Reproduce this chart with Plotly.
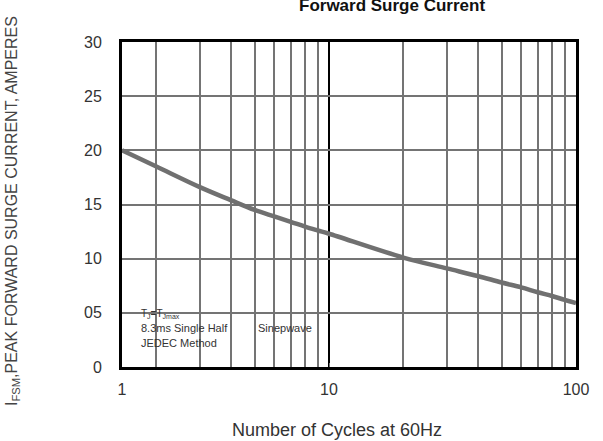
import plotly.graph_objects as go

# Data
cycles = [1.452, 2, 3, 4, 5, 6, 7, 8, 9, 10, 20, 30, 40, 50, 60, 70, 80, 90, 100]
surge_current = [20.0, 18.5, 16.6, 15.4, 14.5, 13.9, 13.4, 12.95, 12.6, 12.3,
                 10.1, 9.1, 8.4, 7.8, 7.35, 6.9, 6.55, 6.2, 5.9]

x_tick_vals = [1.452, 10, 100]
x_tick_text = ["1", "10", "100"]
x_minor_vals = [2, 3, 4, 5, 6, 7, 8, 9, 20, 30, 40, 50, 60, 70, 80, 90]
y_tick_vals = [0, 5, 10, 15, 20, 25, 30]
y_tick_text = ["0", "05", "10", "15", "20", "25", "30"]

FONT = "Liberation Sans, Arial, sans-serif"
GRID = "#747474"

fig = go.Figure()
fig.add_trace(go.Scatter(
    x=cycles, y=surge_current, mode="lines",
    line=dict(color="#707070", width=4.5, shape="spline"),
    showlegend=False, hoverinfo="skip",
))

fig.update_layout(
    width=603, height=441,
    margin=dict(l=122, r=27, t=42, b=74),
    paper_bgcolor="white", plot_bgcolor="white",
    font=dict(family=FONT, color="#333333"),
    hovermode=False,
    xaxis=dict(
        type="log", range=[0.16197, 2],
        tickvals=x_tick_vals, ticktext=x_tick_text,
        showgrid=True, gridcolor="black", gridwidth=1.5,
        ticks="inside", ticklen=4, tickcolor=GRID,
        showline=True, linecolor="black", linewidth=3, mirror=True,
        tickfont=dict(size=16, color="#333333"),
        ticklabelstandoff=6,
        minor=dict(tickvals=x_minor_vals, showgrid=True, gridcolor=GRID,
                   gridwidth=1.8, ticks="inside", ticklen=4, tickcolor=GRID),
        zeroline=False,
    ),
    yaxis=dict(
        range=[0, 30],
        tickvals=y_tick_vals, ticktext=y_tick_text,
        showgrid=True, gridcolor=GRID, gridwidth=1.8,
        ticks="inside", ticklen=5, tickcolor=GRID,
        showline=True, linecolor="black", linewidth=3, mirror=True,
        tickfont=dict(size=16, color="#333333"),
        ticklabelstandoff=14,
        zeroline=False,
    ),
    shapes=[dict(
        type="rect", xref="paper", yref="paper",
        x0=0, x1=0.469, y0=0, y1=0.228,
        fillcolor="white", line=dict(width=0), layer="between",
    )],
    annotations=[
        dict(text="<b>Forward Surge Current</b>", xref="paper", yref="paper",
             x=0.595, y=1.111, xanchor="center", yanchor="middle",
             showarrow=False, font=dict(size=17, color="#111111")),
        dict(text="Number of Cycles at 60Hz", xref="paper", yref="paper",
             x=0.4736, y=-0.194, xanchor="center", yanchor="middle",
             showarrow=False, font=dict(size=18, color="#333333")),
        dict(text="I<sub>FSM</sub>,PEAK FORWARD SURGE CURRENT, AMPERES",
             xref="paper", yref="paper", x=-0.2423, y=0.48,
             xanchor="center", yanchor="middle", textangle=-90,
             showarrow=False, font=dict(size=16, color="#444444")),
        dict(text="T<sub>J</sub>=T<sub>Jmax</sub>", xref="paper", yref="paper",
             x=0.037, y=0.163, xanchor="left", yanchor="middle",
             showarrow=False, font=dict(size=10, color="#333333")),
        dict(text="8.3ms Single Half", xref="paper", yref="paper",
             x=0.037, y=0.12, xanchor="left", yanchor="middle",
             showarrow=False, font=dict(size=11, color="#333333")),
        dict(text="Sinepwave", xref="paper", yref="paper",
             x=0.295, y=0.12, xanchor="left", yanchor="middle",
             showarrow=False, font=dict(size=11, color="#333333")),
        dict(text="JEDEC Method", xref="paper", yref="paper",
             x=0.037, y=0.074, xanchor="left", yanchor="middle",
             showarrow=False, font=dict(size=11, color="#333333")),
    ],
)

fig.write_html("out.html", config={"displayModeBar": False},
               post_script="document.body.style.margin='0';")
